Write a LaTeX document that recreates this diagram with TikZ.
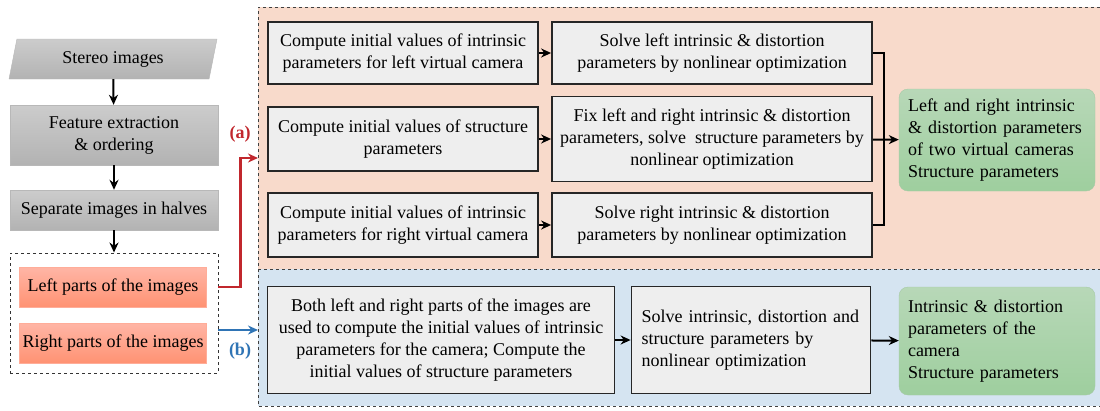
\documentclass[tikz,border=0pt]{standalone}
\usepackage{fontspec}
\setmainfont{Liberation Serif}
\usetikzlibrary{shapes.geometric,arrows.meta,positioning}

\definecolor{orangebg}{HTML}{F8DACB}
\definecolor{bluebg}{HTML}{D5E4F1}
\definecolor{boxgrey}{HTML}{EEEEEE}
\definecolor{redline}{HTML}{C1272D}
\definecolor{blueline}{HTML}{2F74B5}

\begin{document}
\begin{tikzpicture}[x=1pt,y=-1pt,font=\fontsize{18}{22}\selectfont,
  flow/.style={top color=black!20, bottom color=black!30, draw=black!28,
    minimum width=208pt, inner sep=0pt, align=center},
  part/.style={top color=orange!35!red!35, bottom color=orange!45!red!55,
    draw=orange!40!red!40, minimum width=187pt, minimum height=40pt, inner sep=0pt},
  stepbox/.style={fill=boxgrey, draw=black!85, line width=1.8pt, align=center, inner sep=0pt},
  result/.style={top color=green!45!black!28, bottom color=green!50!black!38,
    draw=green!40!black!35, rounded corners=9pt, align=left, inner sep=0pt},
  arr/.style={-{Stealth[length=10pt,width=9pt]}, line width=2pt}]
 \useasboundingbox (0,0) rectangle (1100,410);

 % backgrounds of the two cases
 \fill[orangebg] (258,7) rectangle (1100,269);
 \fill[bluebg] (258,269) rectangle (1100,406);
 \draw[dashed, black!75, line width=0.9pt] (1100,7) -- (258,7) -- (258,406) -- (1100,406);
 \draw[dashed, black!75, line width=0.9pt] (258,269) -- (1100,269);

 % left column
 \node (stereo) [flow, trapezium, trapezium left angle=63.4, trapezium right angle=116.6,
   trapezium stretches body, minimum height=40pt] at (113,59) {Stereo images};
 \node (feat) [flow, minimum height=60pt] at (114,135) {Feature extraction\\\& ordering};
 \node (halves) [flow, minimum height=40pt] at (114,210) {Separate images in halves};
 \node (grp) [draw, dashed, black!80, line width=0.9pt, minimum width=208pt, minimum height=120pt] at (114,313) {};
 \node (left) [part] at (113,287) {Left parts of the images};
 \node (right) [part] at (113,343) {Right parts of the images};
 \draw[arr] (stereo) -- (feat);
 \draw[arr] (feat) -- (halves);
 \draw[arr] (halves) -- (grp);

 \coordinate (aIn) at (258,158);
 \coordinate (bIn) at (258,330);
 \draw[arr, redline, line width=2.4pt] (grp.east |- left.east) -- ++(22,0) |- (aIn);
 \draw[arr, blueline, line width=2.4pt] (grp.east |- bIn) -- (bIn);
 \node (la) [text=redline, font=\fontsize{18}{18}\bfseries] at (240,134) {(a)};
 \node (lb) [text=blueline, font=\fontsize{18}{18}\bfseries] at (240,351) {(b)};

 % case (a)
 \node (a1) [stepbox, minimum width=270pt, minimum height=62pt] at (403,53)
   {Compute initial values of intrinsic\\parameters for left virtual camera};
 \node (a2) [stepbox, minimum width=270pt, minimum height=64pt] at (403,139)
   {Compute initial values of structure\\parameters};
 \node (a3) [stepbox, minimum width=270pt, minimum height=64pt] at (403,225)
   {Compute initial values of intrinsic\\parameters for right virtual camera};
 \node (b1) [stepbox, minimum width=320pt, minimum height=62pt] at (712,53)
   {Solve left intrinsic \& distortion\\parameters by nonlinear optimization};
 \node (b2) [stepbox, minimum width=320pt, minimum height=85pt] at (712,139)
   {Fix left and right intrinsic \& distortion\\parameters, solve\ \ structure parameters by\\nonlinear optimization};
 \node (b3) [stepbox, minimum width=320pt, minimum height=64pt] at (712,225)
   {Solve right intrinsic \& distortion\\parameters by nonlinear optimization};
 \node (g1) [result, minimum width=196pt, minimum height=102pt, text width=178pt] at (997,140)
   {Left and right intrinsic\\\& distortion parameters\\of two virtual cameras\\Structure parameters};
 \draw[arr] (a1) -- (b1);
 \draw[arr] (a2) -- (b2);
 \draw[arr] (a3) -- (b3);
 \coordinate (join) at (884,139);
 \draw[line width=2pt] (b1.east) -| (join) |- (b3.east);
 \draw[arr] (b2) -- (g1);

 % case (b)
 \node (c1) [stepbox, minimum width=347pt, minimum height=107pt] at (441,340)
   {Both left and right parts of the images are\\used to compute the initial values of intrinsic\\parameters for the camera; Compute the\\initial values of structure parameters};
 \node (c2) [stepbox, align=left, minimum width=239pt, minimum height=107pt, text width=219pt] at (751,340)
   {Solve intrinsic, distortion and\\structure parameters by\\nonlinear optimization};
 \node (g2) [result, minimum width=196pt, minimum height=108pt, text width=178pt] at (997,341)
   {Intrinsic \& distortion\\parameters of the\\camera\\Structure parameters};
 \draw[arr] (c1) -- (c2);
 \draw[arr] (c2) -- (g2);
\end{tikzpicture}
\end{document}
